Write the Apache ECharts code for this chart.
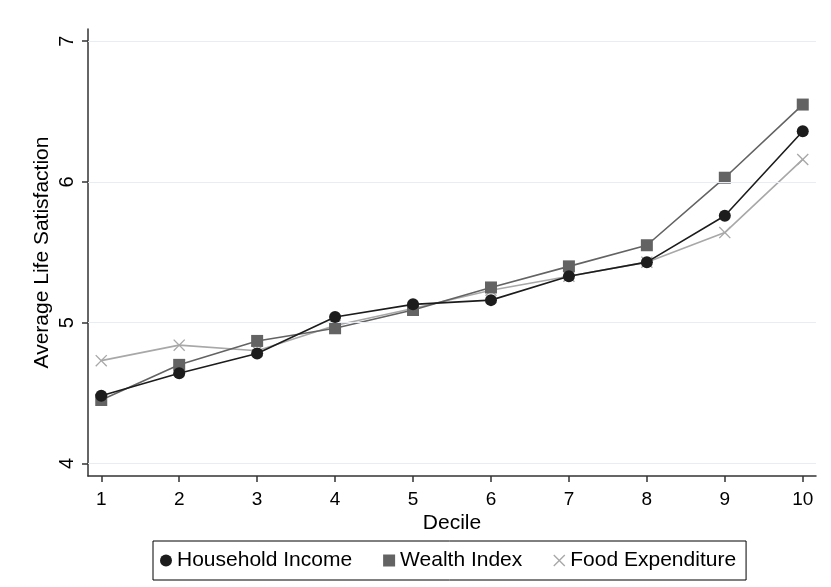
<!DOCTYPE html>
<html>
<head>
<meta charset="utf-8">
<script src="https://cdn.jsdelivr.net/npm/echarts@6/dist/echarts.min.js"></script>
<style>
  html, body { margin: 0; padding: 0; background: #fff; }
  #chart { width: 831px; height: 587px; }
</style>
</head>
<body>
<div id="chart"></div>
<script>
// Average life satisfaction by decile of three welfare measures
const deciles = [1, 2, 3, 4, 5, 6, 7, 8, 9, 10];
const householdIncome = [4.48, 4.64, 4.78, 5.04, 5.13, 5.16, 5.33, 5.43, 5.76, 6.36];
const wealthIndex     = [4.45, 4.70, 4.87, 4.96, 5.09, 5.25, 5.40, 5.55, 6.03, 6.55];
const foodExpenditure = [4.73, 4.84, 4.80, 4.98, 5.10, 5.23, 5.33, 5.43, 5.64, 6.16];
const yTicks = [4, 5, 6, 7];

const FONT = '"Liberation Sans", Arial, sans-serif';
// thin diagonal cross used as the marker for food expenditure
const crossPath = 'path://M8,0 L50,42 L92,0 L100,8 L58,50 L100,92 L92,100 L50,58 L8,100 L0,92 L42,50 L0,8 Z';

function pairs(values) {
  return deciles.map((d, i) => [d, values[i]]);
}

const chart = echarts.init(document.getElementById('chart'), null, { renderer: 'canvas' });

chart.setOption({
  backgroundColor: '#ffffff',
  animation: false,
  textStyle: { fontFamily: FONT },
  grid: { left: 88, right: 15, top: 29, bottom: 111, containLabel: false },
  legend: {
    left: 153,
    top: 541,
    orient: 'horizontal',
    borderColor: '#000',
    borderWidth: 1,
    padding: [9, 10, 9, 7],
    itemGap: 31,
    itemWidth: 12,
    itemHeight: 12,
    textStyle: { fontFamily: FONT, fontSize: 21, color: '#000' },
    data: [
      { name: 'Household Income', icon: 'circle' },
      { name: 'Wealth Index', icon: 'rect' },
      { name: 'Food Expenditure', icon: crossPath }
    ]
  },
  xAxis: {
    type: 'value',
    min: 0.83,
    max: 10.17,
    name: 'Decile',
    nameLocation: 'middle',
    nameGap: 37,
    nameMoveOverlap: false,
    nameTextStyle: { fontFamily: FONT, fontSize: 21, color: '#000' },
    axisLine: { show: true, onZero: false, lineStyle: { color: '#333', width: 1.5 } },
    axisTick: {
      show: true, length: 6, lineStyle: { color: '#333', width: 1.5 },
      customValues: deciles
    },
    axisLabel: {
      fontFamily: FONT, fontSize: 19, color: '#000', margin: 14,
      customValues: deciles,
      formatter: v => String(v)
    },
    splitLine: { show: false }
  },
  yAxis: {
    type: 'value',
    min: 3.91,
    max: 7.087,
    name: 'Average Life Satisfaction',
    nameLocation: 'middle',
    nameGap: 35,
    nameMoveOverlap: false,
    nameRotate: 90,
    nameTextStyle: { fontFamily: FONT, fontSize: 21, color: '#000' },
    axisLine: { show: true, onZero: false, lineStyle: { color: '#333', width: 1.5 } },
    axisTick: {
      show: true, length: 6, lineStyle: { color: '#333', width: 1.5 },
      customValues: yTicks
    },
    axisLabel: {
      fontFamily: FONT, fontSize: 20, color: '#000', margin: 11, rotate: 90,
      customValues: yTicks,
      formatter: v => String(v)
    },
    splitLine: { show: false }
  },
  series: [
    {
      // horizontal reference lines at the labelled y ticks
      type: 'line',
      data: [],
      silent: true,
      markLine: {
        silent: true,
        symbol: 'none',
        label: { show: false },
        lineStyle: { color: '#e6eef1', width: 1.2, type: 'solid' },
        data: yTicks.map(v => ({ yAxis: v }))
      }
    },
    {
      name: 'Food Expenditure',
      type: 'line',
      data: pairs(foodExpenditure),
      symbol: crossPath,
      symbolSize: 12,
      itemStyle: { color: '#a8a8a8' },
      lineStyle: { color: '#a8a8a8', width: 1.6 },
      z: 3
    },
    {
      name: 'Wealth Index',
      type: 'line',
      data: pairs(wealthIndex),
      symbol: 'rect',
      symbolSize: 12,
      itemStyle: { color: '#636363' },
      lineStyle: { color: '#636363', width: 1.6 },
      z: 4
    },
    {
      name: 'Household Income',
      type: 'line',
      data: pairs(householdIncome),
      symbol: 'circle',
      symbolSize: 12,
      itemStyle: { color: '#1c1c1c' },
      lineStyle: { color: '#1c1c1c', width: 1.6 },
      z: 5
    }
  ]
});
</script>
</body>
</html>
